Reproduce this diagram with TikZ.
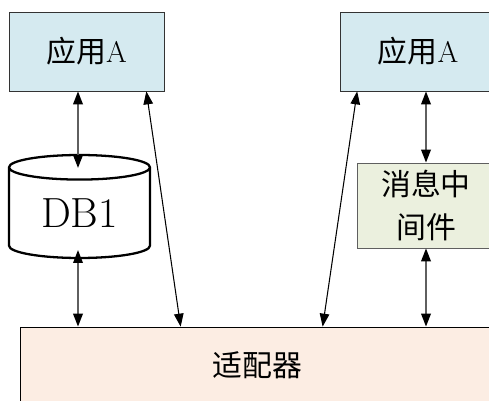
\documentclass[tikz,border=0pt]{standalone}
\usepackage{fontspec}
\newfontfamily\cjk{Noto Sans CJK SC}
\usetikzlibrary{positioning,shapes.geometric,arrows.meta}
\definecolor{appblue}{RGB}{213,234,240}
\definecolor{mqgreen}{RGB}{235,240,222}
\definecolor{adppeach}{RGB}{252,237,227}
\definecolor{linegray}{RGB}{95,95,95}

\begin{document}
\begin{tikzpicture}[x=0.02cm, y=-0.02cm,
    >={Triangle[width=0.19cm, length=0.26cm, color=black]},
    box/.style={draw, inner sep=0pt, align=center, font=\fontsize{17pt}{24pt}\selectfont},
    vlink/.style={<->, draw=linegray, line width=1.1pt},
    slink/.style={<->, line width=0.6pt}
  ]
  \useasboundingbox (0,0) rectangle (489,401);
  \clip (0,0) rectangle (489,401);

  % applications
  \node[box, fill=appblue, draw=black!80, minimum width=3.1cm, minimum height=1.58cm] (app1) at (86.5,51.5) {{\cjk 应用}A};
  \node[box, fill=appblue, draw=black!80, minimum width=3.1cm, minimum height=1.58cm] (app2) at (418,51.5) {{\cjk 应用}A};

  % database
  \node[cylinder, shape border rotate=90, draw, line width=1.3pt, aspect=0.32,
        minimum width=2.82cm, minimum height=2.06cm, inner sep=0pt, anchor=shape center,
        font=\fontsize{24pt}{28pt}\selectfont] (db) at (79.5,206.5) {DB1};
  \coordinate (dbtop) at (78,168);
  \coordinate (dbbot) at (78,250);

  % message middleware
  \node[box, fill=mqgreen, draw=linegray, minimum width=2.76cm, minimum height=1.7cm] (mq) at (426,205.5) {\cjk 消息中\\\cjk 间件};

  % adapter
  \node[box, fill=adppeach, minimum width=9.5cm, minimum height=1.52cm] (adp) at (257.5,365) {\cjk 适配器};

  % links
  \draw[vlink] (app1.south -| dbtop) -- (dbtop);
  \draw[vlink] (dbbot) -- (dbbot |- adp.north);
  \draw[slink] ([xshift=-0.36cm]app1.south east) -- ([xshift=3.22cm]adp.north west);
  \draw[slink] ([xshift=0.34cm]app2.south west) -- ([xshift=6.06cm]adp.north west);
  \draw[vlink] (app2.south -| mq.north) -- (mq.north);
  \draw[vlink] (mq.south) -- (mq.south |- adp.north);
\end{tikzpicture}
\end{document}
